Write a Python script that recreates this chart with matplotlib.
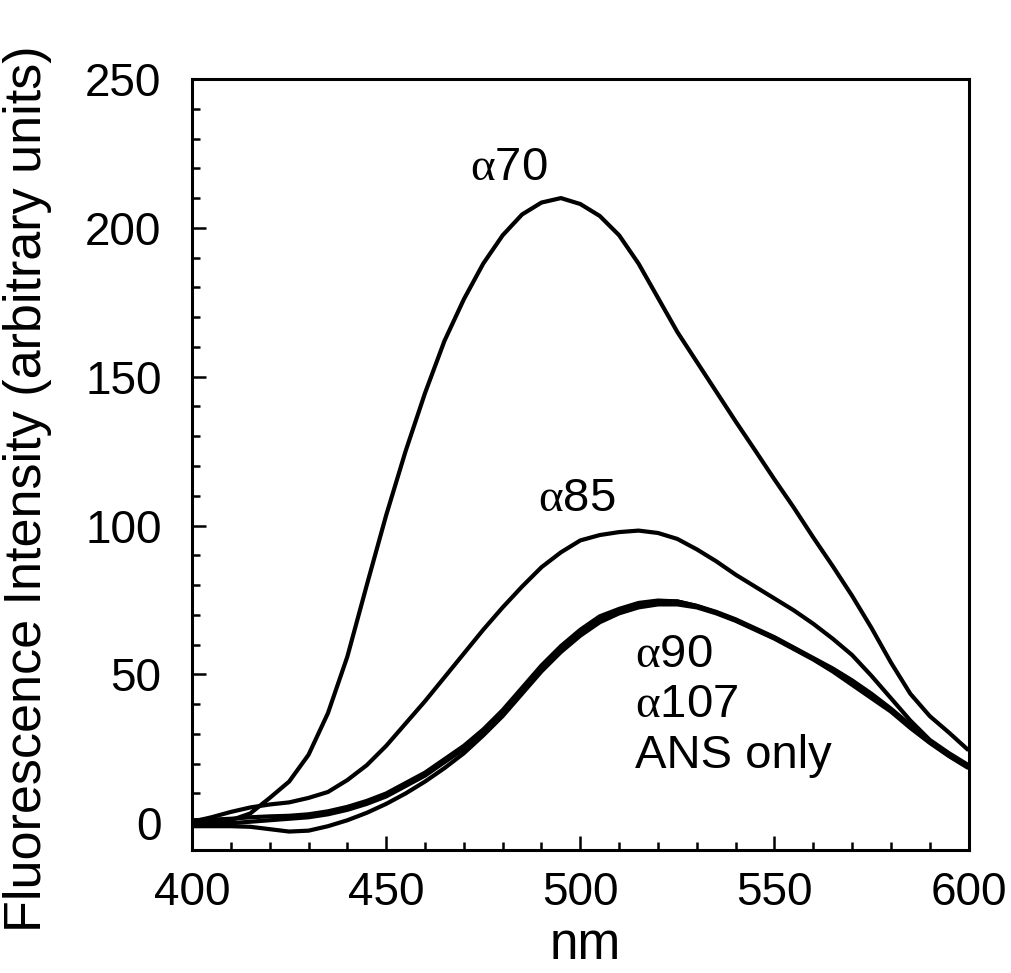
import matplotlib
matplotlib.use("Agg")
import matplotlib.pyplot as plt
from matplotlib.ticker import MultipleLocator

plt.rcParams["font.family"] = ["Liberation Sans", "DejaVu Sans"]
plt.rcParams["mathtext.fontset"] = "custom"
plt.rcParams["mathtext.rm"] = "Liberation Serif"
plt.rcParams["mathtext.it"] = "Liberation Serif"

# wavelength grid (nm), values every 5 nm
wavelength = list(range(400, 605, 5))

alpha70 = [-0.5, 0, 1, 3.3, 8.5, 14, 23, 37, 56, 80,
           103.5, 125, 144.5, 162, 176, 188, 197.5, 204.5, 208.5, 210,
           208, 204, 197.5, 188, 176.5, 165, 155, 145, 135, 125.3,
           115.5, 106, 96, 86.4, 76.4, 65.6, 54, 43.5, 36, 30.4, 24.5]

alpha85 = [0.5, 2, 3.8, 5.3, 6.3, 7, 8.5, 10.5, 14.5, 19.5,
           26, 33.5, 41, 49, 57, 65, 72.5, 79.5, 86, 91,
           95, 96.8, 97.8, 98.3, 97.5, 95.5, 92, 88, 83.5, 79.5,
           75.5, 71.5, 67, 62, 56.5, 49.5, 42, 34.5, 28, 23.5, 19.5]

alpha90 = [1, 1.2, 1.5, 2, 2.3, 2.5, 3, 4, 5.5, 7.5,
           10, 13.5, 17, 21.5, 26, 31.5, 38, 45.5, 53, 59.5,
           65, 69.5, 72, 74, 74.8, 74.5, 73, 71, 68.5, 65.5,
           62.5, 59, 55.5, 52, 48, 43.5, 38.5, 33, 27.5, 23, 19]

alpha107 = [0, 0, 0, 0.5, 1, 1.5, 2, 3, 4.5, 6.5,
            9, 12.5, 16, 20.5, 25, 30.5, 37, 44.5, 52, 58.5,
            64, 68.5, 71.5, 73.5, 74.5, 74.5, 73, 70.8, 68.2, 65.2,
            62.2, 58.8, 55.2, 51.6, 47.6, 43, 38, 32.5, 27.2, 22.7, 18.8]

ans_only = [-1, -1, -1, -1.2, -2, -2.8, -2.5, -1, 1, 3.5,
            6.5, 10, 14, 18.5, 23.5, 29.5, 36, 43.5, 51, 57.5,
            63, 67.5, 70.5, 72.5, 73.5, 73.5, 72.5, 70.5, 68, 65,
            62, 58.5, 55, 51, 46.5, 42, 37.5, 32, 27, 22.5, 18.5]

curves = [alpha70, alpha85, alpha90, alpha107, ans_only]

fig = plt.figure(figsize=(10.11, 9.73), dpi=100)
ax = fig.add_axes([0.190, 0.1264, 0.768, 0.7924])

for y in curves:
    ax.plot(wavelength, y, color="black", lw=3.0, solid_joinstyle="round",
            solid_capstyle="butt")

ax.set_xlim(400, 600)
ax.set_ylim(-9, 250)
ax.xaxis.set_major_locator(MultipleLocator(50))
ax.xaxis.set_minor_locator(MultipleLocator(10))
ax.yaxis.set_major_locator(MultipleLocator(50))
ax.yaxis.set_minor_locator(MultipleLocator(10))
ax.tick_params(which="both", direction="in", top=False, right=False, width=1.8)
ax.tick_params(which="major", length=10, labelsize=33)
ax.tick_params(which="minor", length=5.5)
ax.tick_params(axis="x", which="major", pad=15)
ax.tick_params(axis="y", which="major", pad=22)
for s in ax.spines.values():
    s.set_linewidth(2.2)

ax.set_xlabel("nm", fontsize=37)
ax.set_ylabel("Fluorescence Intensity (arbitrary units)", fontsize=37.5)
ax.xaxis.set_label_coords(0.506, -0.092)
ax.yaxis.set_label_coords(-0.180, 0.468)

fs = 34
ax.text(471.5, 216, r"$\alpha$70", fontsize=fs, ha="left", va="baseline")
ax.text(489, 105, r"$\alpha$85", fontsize=fs, ha="left", va="baseline")
ax.text(514, 52.5, r"$\alpha$90", fontsize=fs, ha="left", va="baseline")
ax.text(514, 35.7, r"$\alpha$107", fontsize=fs, ha="left", va="baseline")
ax.text(514, 18.4, "ANS only", fontsize=fs, ha="left", va="baseline")

fig.savefig("out.png", dpi=100)
